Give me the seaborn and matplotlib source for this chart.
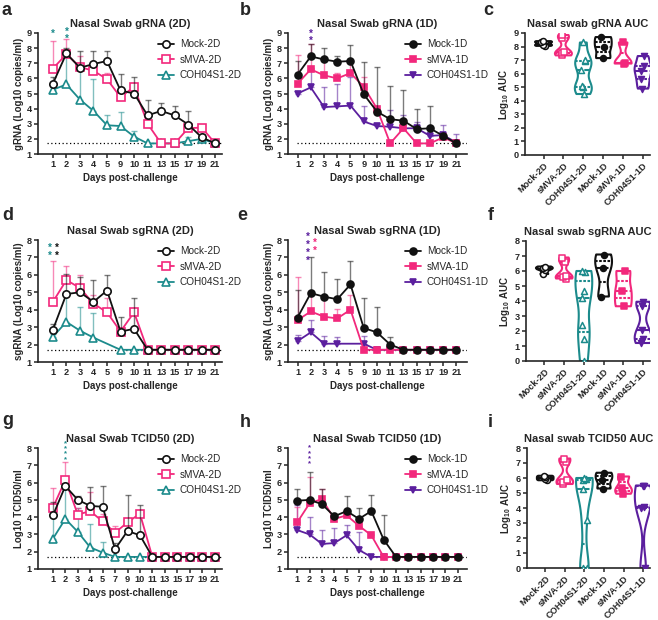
import numpy as np
import pandas as pd
import matplotlib
matplotlib.use("Agg")
import matplotlib.pyplot as plt
import seaborn as sns

nan = np.nan

# Days sampled (categorical x-axis)
days_rna = [1, 2, 3, 4, 5, 9, 10, 11, 13, 15, 17, 19, 21]
days_tcid = [1, 2, 3, 4, 5, 7, 9, 10, 11, 13, 15, 17, 19, 21]

# a: Nasal swab gRNA (2D) - mean and upper error
a_mock = [5.65, 7.65, 6.7, 6.95, 7.15, 5.2, 5.0, 3.55, 3.85, 3.55, 2.95, 2.1, 1.7]
a_mock_up = [6.1, 8.0, 7.8, 7.8, 7.8, 6.3, 6.1, 4.6, 4.35, 4.15, 3.85, 2.3, nan]
a_smva = [6.65, 7.6, 6.75, 6.5, 5.95, 4.75, 5.45, 3.0, 1.7, 1.7, 2.7, 2.75, 1.7]
a_smva_up = [8.5, 8.6, 7.5, 6.7, 6.35, 5.0, 5.5, nan, nan, nan, 3.0, 2.9, nan]
a_coh = [5.25, 5.6, 4.6, 3.85, 2.9, 2.85, 2.15, 1.7, 1.7, 1.7, 1.85, 2.0, 1.7]
a_coh_up = [5.4, 7.6, 6.8, 5.95, 3.55, 3.8, 2.55, nan, nan, nan, 2.15, 2.2, nan]

# b: Nasal swab gRNA (1D)
b_mock = [6.25, 7.45, 7.25, 7.1, 7.15, 4.95, 3.8, 3.3, 3.2, 2.65, 2.7, 2.2, 1.7]
b_mock_up = [7.15, 8.3, 8.0, 7.5, 8.2, 7.05, 6.75, 5.5, 5.25, 3.95, 4.2, 2.3, nan]
b_smva = [5.65, 6.6, 6.2, 6.0, 6.35, 5.45, 4.0, 1.7, 2.7, 1.7, 1.7, 2.1, 1.7]
b_smva_up = [7.55, 8.3, 7.2, 6.35, 7.2, 6.1, 4.05, nan, 3.3, nan, nan, 2.2, nan]
b_coh = [5.0, 5.4, 4.1, 4.15, 4.2, 3.15, 2.85, 2.8, 2.7, 2.7, 2.2, 2.25, 1.75]
b_coh_up = [5.1, 6.7, 5.4, 5.6, 6.1, 4.2, 3.0, 3.9, 3.55, 3.1, 2.3, 2.9, 2.3]

# d: Nasal swab sgRNA (2D)
d_mock = [2.85, 4.9, 5.0, 4.45, 5.1, 2.75, 2.9, 1.7, 1.7, 1.7, 1.7, 1.7, 1.7]
d_mock_up = [3.2, 6.05, 5.85, 5.7, 6.0, 3.6, 4.65, nan, nan, nan, nan, nan, nan]
d_smva = [4.45, 5.7, 5.25, 4.35, 3.85, 2.75, 3.85, 1.7, 1.7, 1.7, 1.7, 1.7, 1.7]
d_smva_up = [6.8, 6.5, 6.0, 4.85, 4.7, 2.9, 3.95, nan, nan, nan, nan, nan, nan]
d_coh = [2.45, 3.3, 2.8, 2.4, nan, 1.7, 1.7, 1.7, 1.7, 1.7, 1.7, 1.7, 1.7]
d_coh_up = [2.6, 5.0, 4.15, 3.8, nan, nan, nan, nan, nan, nan, nan, nan, nan]

# e: Nasal swab sgRNA (1D)
e_mock = [3.55, 4.95, 4.75, 4.6, 5.45, 2.95, 2.7, 2.0, 1.7, 1.7, 1.7, 1.7, 1.7]
e_mock_up = [5.15, 7.05, 6.15, 5.75, 6.8, 4.7, 4.15, 2.45, nan, nan, nan, nan, nan]
e_smva = [3.4, 3.9, 3.6, 3.5, 4.0, 1.7, 1.7, 1.7, 1.7, 1.7, 1.7, 1.7, 1.7]
e_smva_up = [5.85, 5.1, 4.6, 4.05, 4.85, nan, nan, nan, nan, nan, nan, nan, nan]
e_coh = [2.2, 2.7, 2.05, 2.05, nan, 2.05, 1.7, 1.7, 1.7, 1.7, 1.7, 1.7, 1.7]
e_coh_up = [2.55, 3.4, 2.5, 2.45, nan, 2.5, nan, nan, nan, nan, nan, nan, nan]

# g: Nasal swab TCID50 (2D)
g_mock = [4.1, 5.8, 5.0, 4.65, 4.6, 2.15, 3.2, 2.95, 1.7, 1.7, 1.7, 1.7, 1.7, 1.7]
g_mock_up = [4.85, 6.0, 5.2, 5.75, 5.8, 2.5, 5.3, 4.7, nan, nan, nan, nan, nan, nan]
g_smva = [4.55, 6.15, 4.15, 4.35, 3.75, 3.1, 3.7, 4.2, 1.7, 1.7, 1.7, 1.7, 1.7, 1.7]
g_smva_up = [5.7, 7.2, 4.55, 5.45, 4.2, 3.5, 3.8, 4.3, nan, nan, nan, nan, nan, nan]
g_coh = [2.75, 3.9, 3.15, 2.25, 1.95, 1.7, 1.7, 1.7, 1.7, 1.7, 1.7, 1.7, 1.7, 1.7]
g_coh_up = [4.1, 5.6, 4.5, 3.6, 2.55, nan, nan, nan, nan, nan, nan, nan, nan, nan]

# h: Nasal swab TCID50 (1D)
h_mock = [4.95, 5.0, 4.75, 4.05, 4.35, 3.9, 4.35, 2.7, 1.7, 1.7, 1.7, 1.7, 1.7, 1.7]
h_mock_up = [5.6, 6.6, 5.6, 4.1, 5.25, 4.55, 5.3, 4.1, nan, nan, nan, nan, nan, nan]
h_smva = [3.7, 4.8, 5.05, 3.9, 4.1, 3.5, 2.95, 1.7, 1.7, 1.7, 1.7, 1.7, 1.7, 1.7]
h_smva_up = [4.6, 6.3, 5.6, 4.0, 4.2, 3.6, 3.0, nan, nan, nan, nan, nan, nan, nan]
h_coh = [3.25, 3.0, 2.45, 2.5, 2.95, 2.1, 1.7, 1.7, 1.7, 1.7, 1.7, 1.7, 1.7, 1.7]
h_coh_up = [4.7, 4.0, 3.25, 3.35, 3.55, 3.15, nan, nan, nan, nan, nan, nan, nan, nan]

# AUC violins (c, f, i)
groups = ["Mock-2D", "sMVA-2D", "COH04S1-2D", "Mock-1D", "sMVA-1D", "COH04S1-1D"]
c_auc = {
    "Mock-2D": [8.05, 8.15, 8.3, 8.4],
    "sMVA-2D": [7.35, 7.5, 7.6, 8.6, 8.85],
    "COH04S1-2D": [4.5, 5.0, 5.1, 6.3, 6.9, 7.0, 8.3],
    "Mock-1D": [7.15, 8.0, 8.7],
    "sMVA-1D": [6.75, 6.8, 8.3],
    "COH04S1-1D": [4.9, 5.6, 6.2, 6.6, 7.3],
}
f_auc = {
    "Mock-2D": [5.8, 6.1, 6.2, 6.3],
    "sMVA-2D": [5.5, 5.6, 5.65, 6.6, 6.9],
    "COH04S1-2D": [0.0, 1.5, 2.4, 4.2, 4.7, 5.95, 6.0],
    "Mock-1D": [4.3, 6.2, 7.1],
    "sMVA-1D": [3.65, 4.7, 6.0],
    "COH04S1-1D": [1.2, 1.5, 2.1, 3.7, 3.95],
}
i_auc = {
    "Mock-2D": [5.85, 5.95, 6.05, 6.15],
    "sMVA-2D": [5.6, 5.75, 5.85, 7.1, 7.3],
    "COH04S1-2D": [0.0, 0.0, 3.2, 5.3, 5.85, 5.95, 6.0],
    "Mock-1D": [5.3, 5.9, 6.35],
    "sMVA-1D": [4.95, 5.35, 6.1],
    "COH04S1-1D": [0.0, 4.0, 4.1, 5.45, 5.5],
}

BLACK = "#111111"
PINK = "#F2287C"
TEAL = "#1C8B8C"
PURPLE = "#5B1F9E"
colors = {"Mock-2D": BLACK, "sMVA-2D": PINK, "COH04S1-2D": TEAL,
          "Mock-1D": BLACK, "sMVA-1D": PINK, "COH04S1-1D": PURPLE}
markers = {"Mock-2D": "o", "sMVA-2D": "s", "COH04S1-2D": "^",
           "Mock-1D": "o", "sMVA-1D": "s", "COH04S1-1D": "v"}
open_marker = {"Mock-2D": True, "sMVA-2D": True, "COH04S1-2D": True,
               "Mock-1D": False, "sMVA-1D": False, "COH04S1-1D": False}

sns.set_style("ticks")
plt.rcParams["font.family"] = ["Liberation Sans", "DejaVu Sans"]
plt.rcParams["mathtext.fontset"] = "custom"
plt.rcParams["mathtext.bf"] = "Liberation Sans:bold"
plt.rcParams["mathtext.rm"] = "Liberation Sans:bold"

W, H = 658, 620
fig = plt.figure(figsize=(W / 100, H / 100), dpi=100)


def make_ax(l, t, r, b):
    return fig.add_axes([l / W, 1 - b / H, (r - l) / W, (b - t) / H])


def style_ax(ax, ylim, yticks):
    ax.set_ylim(*ylim)
    ax.set_yticks(yticks)
    sns.despine(ax=ax)
    for s in ("left", "bottom"):
        ax.spines[s].set_linewidth(1.2)
    ax.tick_params(axis="both", length=3, width=1.1, pad=1.5, labelsize=6.6)
    for lab in ax.get_xticklabels() + ax.get_yticklabels():
        lab.set_fontweight("bold")


def line_panel(ax, days, series, ylim, yticks, ylabel, title, xlim):
    pos = np.arange(len(days))
    for k, (name, vals, ups) in enumerate(reversed(series)):
        vals = np.array(vals, dtype=float)
        ups = np.array(ups, dtype=float)
        c = colors[name]
        z = 3 + 2 * k
        m = ~np.isnan(vals)
        e = m & ~np.isnan(ups)
        ax.errorbar(pos[e], vals[e], yerr=[np.zeros(e.sum()), ups[e] - vals[e]],
                    fmt="none", ecolor=c, alpha=0.55, elinewidth=1.0,
                    capsize=2.5, capthick=1.0, zorder=z)
        sns.lineplot(x=pos[m], y=vals[m], ax=ax, color=c, marker=markers[name],
                     markersize=5.3 if open_marker[name] else 5,
                     markerfacecolor="white" if open_marker[name] else c,
                     markeredgecolor=c, markeredgewidth=1.2, linewidth=1.3,
                     label=name, errorbar=None, zorder=z + 1)
    ax.axhline(1.7, xmin=0.05, color="black", ls=(0, (1, 2)), lw=0.9, zorder=1)
    ax.set_xticks(pos, [str(d) for d in days])
    ax.set_xlim(*xlim)
    style_ax(ax, ylim, yticks)
    ax.set_xlabel("Days post-challenge", fontsize=7, fontweight="bold", labelpad=3)
    ax.set_ylabel(ylabel, fontsize=7, fontweight="bold", labelpad=2)
    ax.set_title(title, fontsize=8, fontweight="bold", pad=4)
    h, l = ax.get_legend_handles_labels()
    ax.legend(h[::-1], l[::-1], loc="upper left", bbox_to_anchor=(0.63, 0.98),
              frameon=False, fontsize=7.2, handlelength=1.6, handletextpad=0.6,
              labelspacing=0.55, borderaxespad=0)


def violin_panel(ax, data, ylim, yticks, title):
    df = pd.DataFrame([(g, v) for g in groups for v in data[g]], columns=["group", "val"])
    sns.violinplot(data=df, x="group", y="val", hue="group", order=groups,
                   hue_order=groups, palette=colors, fill=False, inner="quart",
                   cut=0, density_norm="width", width=0.85, bw_adjust=0.6,
                   linewidth=1.5, legend=False, ax=ax)
    for g in groups:
        sub = df[df["group"] == g]
        c = colors[g]
        sns.stripplot(data=sub, x="group", y="val", order=groups, ax=ax,
                      marker=markers[g], color="white" if open_marker[g] else c,
                      edgecolor=c, linewidth=1.1, size=4.3, jitter=0.12, zorder=5)
    ax.set_xlim(-0.93, 5.35)
    style_ax(ax, ylim, yticks)
    ax.set_xlabel("")
    ax.set_ylabel(r"Log$_{\mathbf{10}}$ AUC", fontsize=7, fontweight="bold", labelpad=2)
    ax.set_title(title, fontsize=8, fontweight="bold", pad=4)
    for lab in ax.get_xticklabels():
        lab.set_rotation(45)
        lab.set_ha("right")
        lab.set_rotation_mode("anchor")


def stars(ax, x, y_top, n, color, size=7, spacing=0.6):
    # one column of significance asterisks, written as a single text
    ax.text(x, y_top, "\n".join(["*"] * n), color=color, fontsize=size,
            fontweight="bold", ha="center", va="top", linespacing=spacing,
            zorder=10)


# Row 1
ax_a = make_ax(38, 33, 222, 154)
line_panel(ax_a, days_rna,
           [("Mock-2D", a_mock, a_mock_up), ("sMVA-2D", a_smva, a_smva_up),
            ("COH04S1-2D", a_coh, a_coh_up)],
           (1, 9), range(1, 10), "gRNA (Log10 copies/ml)", "Nasal Swab gRNA (2D)",
           (-1.1, 12.5))
stars(ax_a, 0, 9.25, 1, TEAL)
stars(ax_a, 1, 9.4, 2, TEAL)

ax_b = make_ax(288, 33, 467, 154)
line_panel(ax_b, days_rna,
           [("Mock-1D", b_mock, b_mock_up), ("sMVA-1D", b_smva, b_smva_up),
            ("COH04S1-1D", b_coh, b_coh_up)],
           (1, 9), range(1, 10), "gRNA (Log10 copies/ml)", "Nasal Swab gRNA (1D)",
           (-0.72, 12.8))
stars(ax_b, 1, 9.25, 2, PURPLE)

ax_c = make_ax(525, 33, 650, 155)
violin_panel(ax_c, c_auc, (0, 9), range(0, 10), "Nasal swab gRNA AUC")

# Row 2
ax_d = make_ax(38, 240, 222, 362)
line_panel(ax_d, days_rna,
           [("Mock-2D", d_mock, d_mock_up), ("sMVA-2D", d_smva, d_smva_up),
            ("COH04S1-2D", d_coh, d_coh_up)],
           (1, 8), range(1, 9), "sgRNA (Log10 copies/ml)", "Nasal Swab sgRNA (2D)",
           (-1.1, 12.5))
stars(ax_d, -0.2, 7.85, 2, TEAL, spacing=0.8)
stars(ax_d, 0.3, 7.85, 2, BLACK, spacing=0.8)

ax_e = make_ax(288, 240, 467, 362)
line_panel(ax_e, days_rna,
           [("Mock-1D", e_mock, e_mock_up), ("sMVA-1D", e_smva, e_smva_up),
            ("COH04S1-1D", e_coh, e_coh_up)],
           (1, 8), range(1, 9), "sgRNA (Log10 copies/ml)", "Nasal Swab sgRNA (1D)",
           (-0.72, 12.8))
stars(ax_e, 0.75, 8.45, 4, PURPLE, spacing=0.75)
stars(ax_e, 1.3, 8.15, 2, PINK, spacing=0.75)

ax_f = make_ax(526, 241, 650, 361)
violin_panel(ax_f, f_auc, (0, 8), range(0, 9), "Nasal swab sgRNA AUC")

# Row 3
ax_g = make_ax(38, 448, 222, 569)
line_panel(ax_g, days_tcid,
           [("Mock-2D", g_mock, g_mock_up), ("sMVA-2D", g_smva, g_smva_up),
            ("COH04S1-2D", g_coh, g_coh_up)],
           (1, 8), range(1, 9), "Log10 TCID50/ml", "Nasal Swab TCID50 (2D)",
           (-1.2, 13.6))
stars(ax_g, 1, 8.45, 4, TEAL, size=5.5, spacing=0.65)

ax_h = make_ax(288, 448, 467, 569)
line_panel(ax_h, days_tcid,
           [("Mock-1D", h_mock, h_mock_up), ("sMVA-1D", h_smva, h_smva_up),
            ("COH04S1-1D", h_coh, h_coh_up)],
           (1, 8), range(1, 9), "Log10 TCID50/ml", "Nasal Swab TCID50 (1D)",
           (-0.75, 13.75))
stars(ax_h, 1, 8.2, 4, PURPLE, size=5.5, spacing=0.65)

ax_i = make_ax(527, 448, 650, 568)
violin_panel(ax_i, i_auc, (0, 8), range(0, 9), "Nasal swab TCID50 AUC")

# Panel letters
for letter, x, y in [("a", 2, 15), ("b", 240, 15), ("c", 483, 15),
                     ("d", 2, 220), ("e", 237, 220), ("f", 488, 220),
                     ("g", 2, 425), ("h", 240, 427), ("i", 488, 427)]:
    fig.text(x / W, 1 - y / H, letter, fontsize=13, fontweight="bold",
             va="baseline", ha="left")

fig.savefig("out.png", dpi=100)
